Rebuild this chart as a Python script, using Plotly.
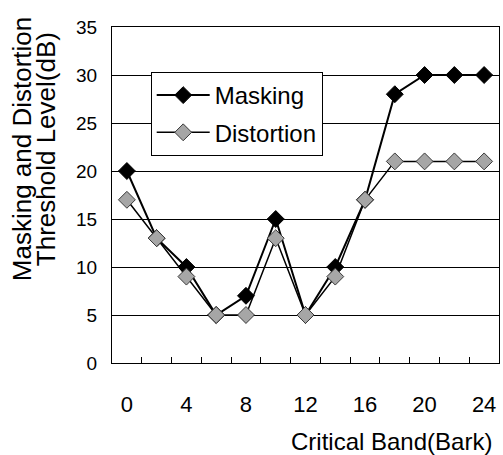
import plotly.graph_objects as go

# Critical band index (Bark) and threshold levels (dB)
bark = [0, 2, 4, 6, 8, 10, 12, 14, 16, 18, 20, 22, 24]
masking = [20, 13, 10, 5, 7, 15, 5, 10, 17, 28, 30, 30, 30]
distortion = [17, 13, 9, 5, 5, 13, 5, 9, 17, 21, 21, 21, 21]

x_tick_vals = [0, 4, 8, 12, 16, 20, 24]
x_minor_vals = [1, 3, 5, 7, 9, 11, 13, 15, 17, 19, 21, 23]
y_tick_vals = [0, 5, 10, 15, 20, 25, 30, 35]

FONT = "Liberation Sans, Arial, sans-serif"

fig = go.Figure()
fig.add_trace(go.Scatter(
    x=bark, y=masking, name="Masking", mode="lines+markers",
    line=dict(color="black", width=2),
    marker=dict(symbol="diamond", size=13, color="black",
                line=dict(color="black", width=1)),
    legendgroup="m",
))
fig.add_trace(go.Scatter(
    x=bark, y=distortion, name="Distortion", mode="lines+markers",
    line=dict(color="black", width=1.5),
    marker=dict(symbol="diamond", size=13, color="#a6a6a6",
                line=dict(color="#3a3a3a", width=1)),
    legendgroup="d",
))

fig.update_layout(
    width=503, height=455,
    margin=dict(l=112, r=4, t=27, b=92),
    paper_bgcolor="white", plot_bgcolor="white",
    font=dict(family=FONT, color="black"),
    showlegend=True,
    legend=dict(
        x=0.10, y=0.866, xanchor="left", yanchor="top",
        bgcolor="white", bordercolor="black", borderwidth=1,
        font=dict(size=24, family=FONT, color="black"),
        itemwidth=53, tracegroupgap=3,
    ),
    xaxis=dict(
        range=[-1, 25], tickmode="array", tickvals=x_tick_vals,
        ticks="", showgrid=False, zeroline=False,
        showline=True, linecolor="black", linewidth=1, mirror=True,
        tickfont=dict(size=22, family=FONT, color="black"),
        ticklabelstandoff=22,
        minor=dict(tickmode="array", tickvals=x_minor_vals, ticks="inside",
                   ticklen=6, tickcolor="black", tickwidth=1, showgrid=False),
    ),
    yaxis=dict(
        range=[0, 35], tickmode="array", tickvals=y_tick_vals,
        ticks="", showgrid=True, gridcolor="black", gridwidth=1,
        zeroline=False,
        showline=True, linecolor="black", linewidth=1, mirror=True,
        tickfont=dict(size=19, family=FONT, color="black"),
        ticklabelstandoff=10,
    ),
    annotations=[
        dict(text="Masking and Distortion", textangle=-90,
             x=-0.232, y=0.637, xref="paper", yref="paper",
             xanchor="center", yanchor="middle", showarrow=False,
             font=dict(size=26, family=FONT, color="black")),
        dict(text="Threshold Level(dB)", textangle=-90,
             x=-0.17, y=0.637, xref="paper", yref="paper",
             xanchor="center", yanchor="middle", showarrow=False,
             font=dict(size=26, family=FONT, color="black")),
        dict(text="Critical Band(Bark)",
             x=0.7235, y=-0.235, xref="paper", yref="paper",
             xanchor="center", yanchor="middle", showarrow=False,
             font=dict(size=24, family=FONT, color="black")),
    ],
)

fig.write_html("out.html")
